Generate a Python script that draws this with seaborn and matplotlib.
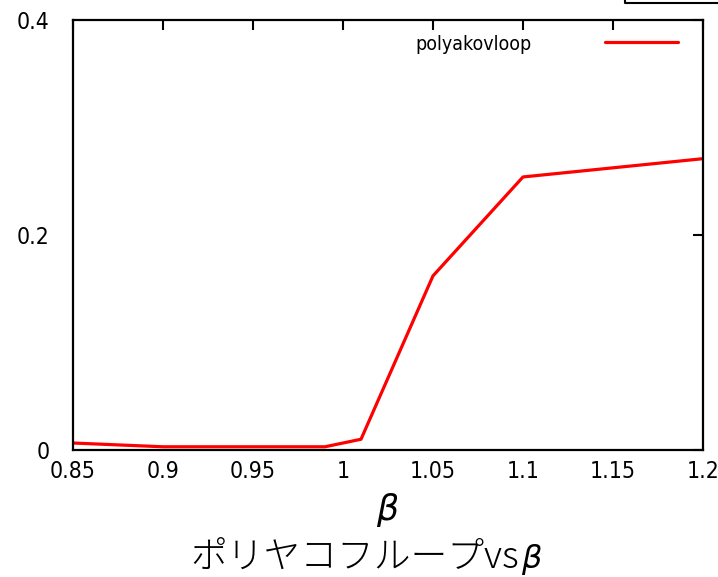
import matplotlib
matplotlib.use("Agg")
import matplotlib.pyplot as plt
from matplotlib.lines import Line2D
import seaborn as sns
import pandas as pd

beta = [0.85, 0.90, 0.95, 0.99, 1.01, 1.05, 1.10, 1.20]
polyakov = [0.0065, 0.003, 0.003, 0.003, 0.010, 0.162, 0.254, 0.271]
x_ticks = [0.85, 0.9, 0.95, 1.0, 1.05, 1.1, 1.15, 1.2]
x_tick_labels = ["0.85", "0.9", "0.95", "1", "1.05", "1.1", "1.15", "1.2"]
y_ticks = [0.0, 0.2, 0.4]
y_tick_labels = ["0", "0.2", "0.4"]
series_name = "polyakovloop"
title_main = "ポリヤコフループvs"
title_symbol = "$\\beta$"

sns.set_style("white")
plt.rcParams["font.family"] = ["Noto Sans CJK JP", "DejaVu Sans"]
plt.rcParams["mathtext.fontset"] = "dejavusans"
plt.rcParams["text.color"] = "black"
plt.rcParams["axes.labelcolor"] = "black"

df = pd.DataFrame({"beta": beta, "value": polyakov})

fig = plt.figure(figsize=(7.18, 5.77), dpi=100)
ax = fig.add_axes([73 / 718, 1 - 450 / 577, 630 / 718, 430 / 577])

sns.lineplot(data=df, x="beta", y="value", ax=ax, color="#ff0000",
             linewidth=2.3, label=series_name, legend=False)

ax.set_xlim(0.85, 1.2)
ax.set_ylim(0.0, 0.4)
ax.set_xticks(x_ticks)
ax.set_yticks(y_ticks)

tick_font = dict(family=["DejaVu Sans"], stretch="condensed", size=16.5)
ax.set_xticklabels(x_tick_labels, fontdict=tick_font)
ax.set_yticklabels(y_tick_labels, fontdict=tick_font)
ax.tick_params(direction="in", length=7, width=1.5, top=True, right=True,
               pad=7, colors="black")
ax.tick_params(axis="y", pad=17)
for sp in ax.spines.values():
    sp.set_visible(True)
    sp.set_linewidth(1.6)
    sp.set_color("black")

ax.set_xlabel("$\\beta$", fontsize=25, labelpad=6)
ax.set_ylabel("")

# key in the upper right, gnuplot style
ax.text(0.728, 0.943, series_name, transform=ax.transAxes, ha="right",
        va="center", fontsize=14, family=["DejaVu Sans"], stretch="condensed")
ax.add_line(Line2D([0.845, 0.96], [0.948, 0.948], transform=ax.transAxes,
                   color="#ff0000", linewidth=2.3))

# caption under the axis label, sharing one baseline
base_y = 9 / 577
fig.text(519 / 718, base_y, title_main, ha="right", va="baseline",
         fontsize=26.5, fontweight="light")
fig.text(521 / 718, base_y, title_symbol, ha="left", va="baseline",
         fontsize=23)

# edge of the adjacent frame at the top right
fig.add_artist(Line2D([625 / 718, 625 / 718, 1.0], [1.0, 1 - 3 / 577, 1 - 3 / 577],
                      transform=fig.transFigure, color="black", linewidth=1.5))

fig.savefig("out.png", dpi=100)
